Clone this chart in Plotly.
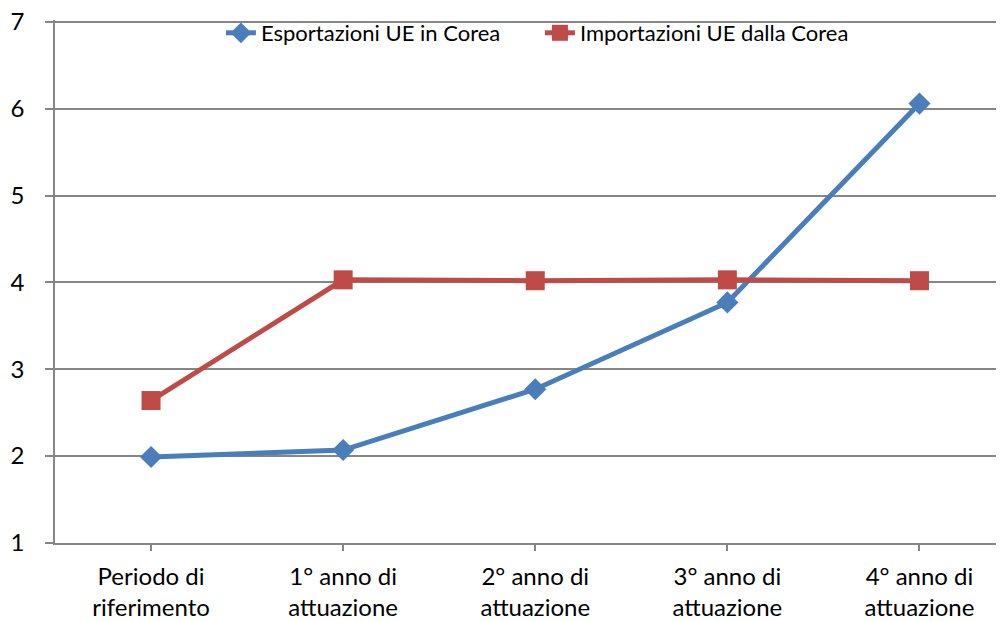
import plotly.graph_objects as go

categories = ["Periodo di<br>riferimento", "1° anno di<br>attuazione", "2° anno di<br>attuazione",
              "3° anno di<br>attuazione", "4° anno di<br>attuazione"]
esportazioni = [1.99, 2.07, 2.77, 3.77, 6.06]
importazioni = [2.64, 4.03, 4.02, 4.03, 4.02]
y_ticks = [1, 2, 3, 4, 5, 6, 7]

fig = go.Figure()
fig.add_trace(go.Scatter(
    x=categories, y=esportazioni, name="Esportazioni UE in Corea", mode="lines+markers",
    line=dict(color="#4A7EBB", width=5),
    marker=dict(symbol="diamond", size=17, color="#4A7EBB")))
fig.add_trace(go.Scatter(
    x=categories, y=importazioni, name="Importazioni UE dalla Corea", mode="lines+markers",
    line=dict(color="#BE4B48", width=5),
    marker=dict(symbol="square", size=19, color="#BE4B48")))

font_family = "Lato, 'Open Sans', sans-serif"
# page body has an 8px default margin, so the figure is offset by 8px
fig.update_layout(
    width=1004, height=621,
    margin=dict(l=47, r=8, t=12, b=86, autoexpand=False),
    paper_bgcolor="white", plot_bgcolor="white",
    font=dict(family=font_family, size=24, color="#000000"),
    showlegend=True,
    legend=dict(orientation="h", x=0.511, xanchor="center",
                yref="container", y=1 - 25 / 621, yanchor="middle",
                font=dict(size=22), bgcolor="rgba(255,255,255,0)",
                traceorder="normal", entrywidth=274),
    xaxis=dict(type="category", range=[-0.5, 4.44], showgrid=False, automargin=False,
               showline=True, linecolor="#868686", linewidth=1.5,
               ticks="outside", ticklen=6, tickcolor="#868686", tickwidth=1.5,
               tickfont=dict(size=24), ticklabelstandoff=5, fixedrange=True),
    yaxis=dict(range=[0.999, 7.023], tickmode="array", tickvals=y_ticks,
               showgrid=True, gridcolor="#868686", gridwidth=1.5,
               showline=True, linecolor="#868686", linewidth=1.5, automargin=False,
               ticks="outside", ticklen=8, tickcolor="#868686", tickwidth=1.5,
               tickfont=dict(size=24), ticklabelstandoff=16, zeroline=False,
               ticklabeloverflow="allow"),
)
fig.write_html("out.html")
